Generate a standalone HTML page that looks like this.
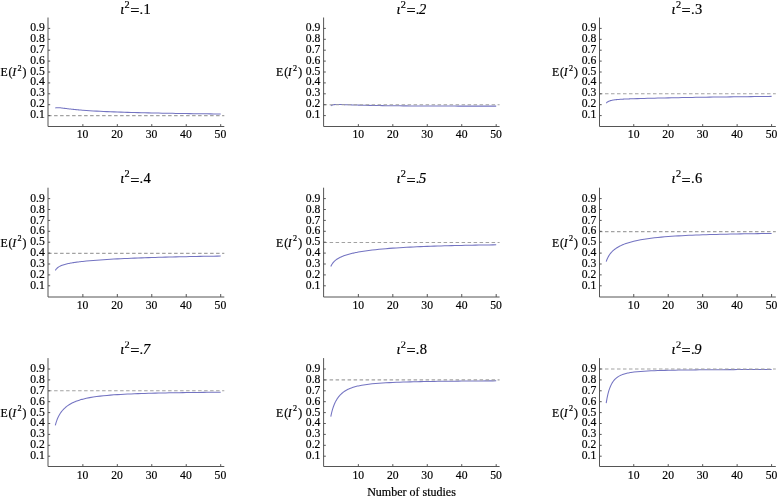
<!DOCTYPE html>
<html><head><meta charset="utf-8"><title>E(I2) by number of studies</title>
<style>
html,body{margin:0;padding:0;background:#fff;}
body{width:778px;height:497px;overflow:hidden;}
svg{display:block;}
text{font-family:"Liberation Serif","DejaVu Serif",serif;fill:#000;stroke:#000;stroke-width:0.2px;}
.t{font-size:13.4px;}
.ti{font-size:14.5px;}
.yl{font-size:11.8px;}
.nl{font-size:12px;}
.ax{stroke:#555;stroke-width:1;fill:none;}
.cv{stroke:#7474c2;stroke-width:1.05;fill:none;stroke-linejoin:round;}
.ds{stroke:#a2a2a2;stroke-width:1.1;fill:none;stroke-dasharray:3.5 2.5;}
</style></head><body>
<svg width="778" height="497" viewBox="0 0 778 497">
<defs><clipPath id="c3" clipPathUnits="userSpaceOnUse"><rect x="0" y="341.4" width="778" height="30"/></clipPath></defs>
<rect width="778" height="497" fill="#fff"/>

<g>
<polyline class="cv" points="55.29,108.12 56.15,107.83 57.02,107.71 57.88,107.68 58.74,107.71 59.60,107.77 60.46,107.85 61.32,107.95 62.18,108.05 63.05,108.15 63.91,108.26 64.77,108.37 65.63,108.48 66.49,108.59 67.35,108.70 68.21,108.80 69.08,108.90 69.94,109.00 70.80,109.10 71.66,109.19 72.52,109.29 73.38,109.38 74.25,109.46 75.11,109.55 75.97,109.63 76.83,109.71 77.69,109.79 78.55,109.87 79.41,109.94 80.28,110.01 81.14,110.08 82.00,110.15 82.86,110.22 86.31,110.47 89.75,110.71 93.20,110.92 96.64,111.11 100.09,111.29 103.54,111.46 106.98,111.61 110.43,111.76 113.87,111.89 117.32,112.02 120.77,112.14 124.21,112.25 127.66,112.36 131.10,112.46 134.55,112.55 138.00,112.64 141.44,112.73 144.89,112.81 148.33,112.89 151.78,112.96 155.23,113.03 158.67,113.10 162.12,113.17 165.56,113.23 169.01,113.29 172.46,113.35 175.90,113.41 179.35,113.46 182.79,113.51 186.24,113.56 189.69,113.61 193.13,113.66 196.58,113.70 200.02,113.74 203.47,113.79 206.92,113.83 210.36,113.87 213.81,113.90 217.25,113.94 220.70,113.98"/>
<line class="ds" x1="48.10" y1="115.60" x2="224.30" y2="115.60"/>
<path class="ax" d="M48.00 17.50 V126.50 H224.30"/>
<path class="ax" d="M48.00 115.60h2.2M48.00 104.70h2.2M48.00 93.80h2.2M48.00 82.90h2.2M48.00 72.00h2.2M48.00 61.10h2.2M48.00 50.20h2.2M48.00 39.30h2.2M48.00 28.40h2.2M82.86 126.50v-2.4M117.32 126.50v-2.4M151.78 126.50v-2.4M186.24 126.50v-2.4M220.70 126.50v-2.4"/>
<text class="t" text-anchor="end" transform="translate(44.80 118.10) scale(0.87 1)">0.1</text>
<text class="t" text-anchor="end" transform="translate(44.80 107.20) scale(0.87 1)">0.2</text>
<text class="t" text-anchor="end" transform="translate(44.80 96.30) scale(0.87 1)">0.3</text>
<text class="t" text-anchor="end" transform="translate(44.80 85.40) scale(0.87 1)">0.4</text>
<text class="t" text-anchor="end" transform="translate(44.80 74.50) scale(0.87 1)">0.5</text>
<text class="t" text-anchor="end" transform="translate(44.80 63.60) scale(0.87 1)">0.6</text>
<text class="t" text-anchor="end" transform="translate(44.80 52.70) scale(0.87 1)">0.7</text>
<text class="t" text-anchor="end" transform="translate(44.80 41.80) scale(0.87 1)">0.8</text>
<text class="t" text-anchor="end" transform="translate(44.80 30.90) scale(0.87 1)">0.9</text>
<text class="t" text-anchor="middle" transform="translate(82.56 138.30) scale(0.87 1)">10</text>
<text class="t" text-anchor="middle" transform="translate(117.02 138.30) scale(0.87 1)">20</text>
<text class="t" text-anchor="middle" transform="translate(151.48 138.30) scale(0.87 1)">30</text>
<text class="t" text-anchor="middle" transform="translate(185.94 138.30) scale(0.87 1)">40</text>
<text class="t" text-anchor="middle" transform="translate(220.40 138.30) scale(0.87 1)">50</text>
<text class="ti" y="13.90"><tspan font-style="italic" x="120.30">ι</tspan><tspan x="130.30" dy="2.2" font-size="16.3">=</tspan><tspan x="139.60" dy="-2.2">.</tspan><tspan x="143.60">1</tspan></text>
<text class="ti" style="font-size:10.3px" x="124.60" y="7.50">2</text>
<text class="yl" x="0.40" y="76.40">E<tspan dx="1">(</tspan><tspan font-style="italic" dx="-0.4">I</tspan><tspan dy="-5.5" dx="1.4" font-size="8.2">2</tspan><tspan dy="5.5" dx="1">)</tspan></text>
</g>
<g>
<polyline class="cv" points="330.79,105.83 331.65,105.29 332.51,104.96 333.38,104.74 334.24,104.61 335.10,104.52 335.96,104.47 336.82,104.44 337.68,104.44 338.55,104.44 339.41,104.45 340.27,104.47 341.13,104.49 341.99,104.52 342.85,104.55 343.71,104.58 344.58,104.61 345.44,104.65 346.30,104.68 347.16,104.71 348.02,104.75 348.88,104.78 349.75,104.81 350.61,104.84 351.47,104.88 352.33,104.91 353.19,104.94 354.05,104.97 354.91,105.00 355.78,105.02 356.64,105.05 357.50,105.08 358.36,105.11 361.81,105.21 365.25,105.29 368.70,105.38 372.14,105.45 375.59,105.52 379.04,105.57 382.48,105.63 385.93,105.68 389.37,105.72 392.82,105.76 396.27,105.80 399.71,105.83 403.16,105.86 406.60,105.89 410.05,105.92 413.50,105.94 416.94,105.96 420.39,105.98 423.83,105.99 427.28,106.01 430.73,106.02 434.17,106.04 437.62,106.05 441.06,106.06 444.51,106.07 447.96,106.08 451.40,106.08 454.85,106.09 458.29,106.10 461.74,106.10 465.19,106.10 468.63,106.11 472.08,106.11 475.52,106.11 478.97,106.12 482.42,106.12 485.86,106.12 489.31,106.12 492.75,106.12 496.20,106.12"/>
<line class="ds" x1="323.60" y1="104.70" x2="499.60" y2="104.70"/>
<path class="ax" d="M323.60 17.50 V126.50 H499.60"/>
<path class="ax" d="M323.60 115.60h2.2M323.60 104.70h2.2M323.60 93.80h2.2M323.60 82.90h2.2M323.60 72.00h2.2M323.60 61.10h2.2M323.60 50.20h2.2M323.60 39.30h2.2M323.60 28.40h2.2M358.36 126.50v-2.4M392.82 126.50v-2.4M427.28 126.50v-2.4M461.74 126.50v-2.4M496.20 126.50v-2.4"/>
<text class="t" text-anchor="end" transform="translate(320.40 118.10) scale(0.87 1)">0.1</text>
<text class="t" text-anchor="end" transform="translate(320.40 107.20) scale(0.87 1)">0.2</text>
<text class="t" text-anchor="end" transform="translate(320.40 96.30) scale(0.87 1)">0.3</text>
<text class="t" text-anchor="end" transform="translate(320.40 85.40) scale(0.87 1)">0.4</text>
<text class="t" text-anchor="end" transform="translate(320.40 74.50) scale(0.87 1)">0.5</text>
<text class="t" text-anchor="end" transform="translate(320.40 63.60) scale(0.87 1)">0.6</text>
<text class="t" text-anchor="end" transform="translate(320.40 52.70) scale(0.87 1)">0.7</text>
<text class="t" text-anchor="end" transform="translate(320.40 41.80) scale(0.87 1)">0.8</text>
<text class="t" text-anchor="end" transform="translate(320.40 30.90) scale(0.87 1)">0.9</text>
<text class="t" text-anchor="middle" transform="translate(358.26 138.30) scale(0.87 1)">10</text>
<text class="t" text-anchor="middle" transform="translate(392.72 138.30) scale(0.87 1)">20</text>
<text class="t" text-anchor="middle" transform="translate(427.18 138.30) scale(0.87 1)">30</text>
<text class="t" text-anchor="middle" transform="translate(461.64 138.30) scale(0.87 1)">40</text>
<text class="t" text-anchor="middle" transform="translate(496.10 138.30) scale(0.87 1)">50</text>
<text class="ti" y="13.90"><tspan font-style="italic" x="396.40">ι</tspan><tspan x="406.40" dy="2.2" font-size="16.3">=</tspan><tspan x="415.70" dy="-2.2">.</tspan><tspan x="419.00" font-style="italic">2</tspan></text>
<text class="ti" style="font-size:10.3px" x="400.70" y="7.50">2</text>
<text class="yl" x="276.00" y="76.40">E<tspan dx="1">(</tspan><tspan font-style="italic" dx="-0.4">I</tspan><tspan dy="-5.5" dx="1.4" font-size="8.2">2</tspan><tspan dy="5.5" dx="1">)</tspan></text>
</g>
<g>
<polyline class="cv" points="606.19,103.14 607.05,102.29 607.91,101.68 608.78,101.24 609.64,100.89 610.50,100.62 611.36,100.40 612.22,100.21 613.08,100.06 613.95,99.93 614.81,99.81 615.67,99.71 616.53,99.62 617.39,99.54 618.25,99.47 619.11,99.40 619.98,99.34 620.84,99.28 621.70,99.23 622.56,99.18 623.42,99.14 624.28,99.09 625.14,99.05 626.01,99.01 626.87,98.97 627.73,98.94 628.59,98.90 629.45,98.87 630.31,98.84 631.18,98.81 632.04,98.78 632.90,98.75 633.76,98.72 637.21,98.61 640.65,98.51 644.10,98.41 647.54,98.32 650.99,98.24 654.44,98.15 657.88,98.08 661.33,98.00 664.77,97.93 668.22,97.86 671.67,97.79 675.11,97.72 678.56,97.65 682.00,97.59 685.45,97.53 688.90,97.47 692.34,97.41 695.79,97.35 699.23,97.30 702.68,97.25 706.13,97.19 709.57,97.14 713.02,97.09 716.46,97.04 719.91,96.99 723.36,96.95 726.80,96.90 730.25,96.86 733.69,96.81 737.14,96.77 740.59,96.73 744.03,96.69 747.48,96.65 750.92,96.61 754.37,96.57 757.82,96.53 761.26,96.50 764.71,96.46 768.15,96.43 771.60,96.39"/>
<line class="ds" x1="599.00" y1="93.80" x2="775.80" y2="93.80"/>
<path class="ax" d="M599.50 17.50 V126.50 H775.80"/>
<path class="ax" d="M599.50 115.60h2.2M599.50 104.70h2.2M599.50 93.80h2.2M599.50 82.90h2.2M599.50 72.00h2.2M599.50 61.10h2.2M599.50 50.20h2.2M599.50 39.30h2.2M599.50 28.40h2.2M633.76 126.50v-2.4M668.22 126.50v-2.4M702.68 126.50v-2.4M737.14 126.50v-2.4M771.60 126.50v-2.4"/>
<text class="t" text-anchor="end" transform="translate(596.30 118.10) scale(0.87 1)">0.1</text>
<text class="t" text-anchor="end" transform="translate(596.30 107.20) scale(0.87 1)">0.2</text>
<text class="t" text-anchor="end" transform="translate(596.30 96.30) scale(0.87 1)">0.3</text>
<text class="t" text-anchor="end" transform="translate(596.30 85.40) scale(0.87 1)">0.4</text>
<text class="t" text-anchor="end" transform="translate(596.30 74.50) scale(0.87 1)">0.5</text>
<text class="t" text-anchor="end" transform="translate(596.30 63.60) scale(0.87 1)">0.6</text>
<text class="t" text-anchor="end" transform="translate(596.30 52.70) scale(0.87 1)">0.7</text>
<text class="t" text-anchor="end" transform="translate(596.30 41.80) scale(0.87 1)">0.8</text>
<text class="t" text-anchor="end" transform="translate(596.30 30.90) scale(0.87 1)">0.9</text>
<text class="t" text-anchor="middle" transform="translate(633.66 138.30) scale(0.87 1)">10</text>
<text class="t" text-anchor="middle" transform="translate(668.12 138.30) scale(0.87 1)">20</text>
<text class="t" text-anchor="middle" transform="translate(702.58 138.30) scale(0.87 1)">30</text>
<text class="t" text-anchor="middle" transform="translate(737.04 138.30) scale(0.87 1)">40</text>
<text class="t" text-anchor="middle" transform="translate(771.50 138.30) scale(0.87 1)">50</text>
<text class="ti" y="13.90"><tspan font-style="italic" x="671.60">ι</tspan><tspan x="681.60" dy="2.2" font-size="16.3">=</tspan><tspan x="690.90" dy="-2.2">.</tspan><tspan x="694.90">3</tspan></text>
<text class="ti" style="font-size:10.3px" x="675.90" y="7.50">2</text>
<text class="yl" x="551.90" y="76.40">E<tspan dx="1">(</tspan><tspan font-style="italic" dx="-0.4">I</tspan><tspan dy="-5.5" dx="1.4" font-size="8.2">2</tspan><tspan dy="5.5" dx="1">)</tspan></text>
</g>
<g>
<polyline class="cv" points="55.29,270.42 56.15,269.18 57.02,268.24 57.88,267.50 58.74,266.90 59.60,266.39 60.46,265.95 61.32,265.57 62.18,265.23 63.05,264.93 63.91,264.65 64.77,264.40 65.63,264.17 66.49,263.95 67.35,263.75 68.21,263.57 69.08,263.39 69.94,263.22 70.80,263.06 71.66,262.91 72.52,262.77 73.38,262.63 74.25,262.50 75.11,262.37 75.97,262.25 76.83,262.13 77.69,262.01 78.55,261.90 79.41,261.80 80.28,261.69 81.14,261.59 82.00,261.50 82.86,261.40 86.31,261.05 89.75,260.73 93.20,260.43 96.64,260.16 100.09,259.91 103.54,259.68 106.98,259.46 110.43,259.26 113.87,259.06 117.32,258.88 120.77,258.71 124.21,258.55 127.66,258.40 131.10,258.25 134.55,258.12 138.00,257.99 141.44,257.86 144.89,257.74 148.33,257.63 151.78,257.52 155.23,257.42 158.67,257.32 162.12,257.22 165.56,257.13 169.01,257.04 172.46,256.96 175.90,256.88 179.35,256.80 182.79,256.73 186.24,256.65 189.69,256.59 193.13,256.52 196.58,256.46 200.02,256.39 203.47,256.33 206.92,256.28 210.36,256.22 213.81,256.17 217.25,256.11 220.70,256.06"/>
<line class="ds" x1="48.10" y1="253.40" x2="224.30" y2="253.40"/>
<path class="ax" d="M48.00 187.70 V297.00 H224.30"/>
<path class="ax" d="M48.00 285.80h2.2M48.00 274.90h2.2M48.00 264.00h2.2M48.00 253.10h2.2M48.00 242.20h2.2M48.00 231.30h2.2M48.00 220.40h2.2M48.00 209.50h2.2M48.00 198.60h2.2M82.86 297.00v-3.0M117.32 297.00v-3.0M151.78 297.00v-3.0M186.24 297.00v-3.0M220.70 297.00v-3.0"/>
<text class="t" text-anchor="end" transform="translate(44.80 288.90) scale(0.87 1)">0.1</text>
<text class="t" text-anchor="end" transform="translate(44.80 278.00) scale(0.87 1)">0.2</text>
<text class="t" text-anchor="end" transform="translate(44.80 267.10) scale(0.87 1)">0.3</text>
<text class="t" text-anchor="end" transform="translate(44.80 256.20) scale(0.87 1)">0.4</text>
<text class="t" text-anchor="end" transform="translate(44.80 245.30) scale(0.87 1)">0.5</text>
<text class="t" text-anchor="end" transform="translate(44.80 234.40) scale(0.87 1)">0.6</text>
<text class="t" text-anchor="end" transform="translate(44.80 223.50) scale(0.87 1)">0.7</text>
<text class="t" text-anchor="end" transform="translate(44.80 212.60) scale(0.87 1)">0.8</text>
<text class="t" text-anchor="end" transform="translate(44.80 201.70) scale(0.87 1)">0.9</text>
<text class="t" text-anchor="middle" transform="translate(82.56 308.70) scale(0.87 1)">10</text>
<text class="t" text-anchor="middle" transform="translate(117.02 308.70) scale(0.87 1)">20</text>
<text class="t" text-anchor="middle" transform="translate(151.48 308.70) scale(0.87 1)">30</text>
<text class="t" text-anchor="middle" transform="translate(185.94 308.70) scale(0.87 1)">40</text>
<text class="t" text-anchor="middle" transform="translate(220.40 308.70) scale(0.87 1)">50</text>
<text class="ti" y="183.40"><tspan font-style="italic" x="120.30">ι</tspan><tspan x="130.30" dy="2.2" font-size="16.3">=</tspan><tspan x="139.60" dy="-2.2">.</tspan><tspan x="143.60">4</tspan></text>
<text class="ti" style="font-size:10.3px" x="124.60" y="177.00">2</text>
<text class="yl" x="0.40" y="246.50">E<tspan dx="1">(</tspan><tspan font-style="italic" dx="-0.4">I</tspan><tspan dy="-5.5" dx="1.4" font-size="8.2">2</tspan><tspan dy="5.5" dx="1">)</tspan></text>
</g>
<g>
<polyline class="cv" points="330.79,266.50 331.65,264.77 332.51,263.42 333.38,262.32 334.24,261.40 335.10,260.60 335.96,259.90 336.82,259.27 337.68,258.71 338.55,258.20 339.41,257.73 340.27,257.30 341.13,256.90 341.99,256.53 342.85,256.18 343.71,255.85 344.58,255.53 345.44,255.24 346.30,254.96 347.16,254.69 348.02,254.44 348.88,254.19 349.75,253.96 350.61,253.74 351.47,253.52 352.33,253.32 353.19,253.12 354.05,252.93 354.91,252.75 355.78,252.57 356.64,252.40 357.50,252.23 358.36,252.07 361.81,251.47 365.25,250.94 368.70,250.47 372.14,250.04 375.59,249.65 379.04,249.29 382.48,248.97 385.93,248.67 389.37,248.39 392.82,248.14 396.27,247.90 399.71,247.68 403.16,247.48 406.60,247.29 410.05,247.11 413.50,246.94 416.94,246.79 420.39,246.64 423.83,246.50 427.28,246.37 430.73,246.25 434.17,246.14 437.62,246.03 441.06,245.92 444.51,245.83 447.96,245.73 451.40,245.64 454.85,245.56 458.29,245.48 461.74,245.41 465.19,245.33 468.63,245.26 472.08,245.20 475.52,245.13 478.97,245.07 482.42,245.02 485.86,244.96 489.31,244.91 492.75,244.86 496.20,244.81"/>
<line class="ds" x1="323.60" y1="242.50" x2="499.60" y2="242.50"/>
<path class="ax" d="M323.60 187.70 V297.00 H499.60"/>
<path class="ax" d="M323.60 285.80h2.2M323.60 274.90h2.2M323.60 264.00h2.2M323.60 253.10h2.2M323.60 242.20h2.2M323.60 231.30h2.2M323.60 220.40h2.2M323.60 209.50h2.2M323.60 198.60h2.2M358.36 297.00v-3.0M392.82 297.00v-3.0M427.28 297.00v-3.0M461.74 297.00v-3.0M496.20 297.00v-3.0"/>
<text class="t" text-anchor="end" transform="translate(320.40 288.90) scale(0.87 1)">0.1</text>
<text class="t" text-anchor="end" transform="translate(320.40 278.00) scale(0.87 1)">0.2</text>
<text class="t" text-anchor="end" transform="translate(320.40 267.10) scale(0.87 1)">0.3</text>
<text class="t" text-anchor="end" transform="translate(320.40 256.20) scale(0.87 1)">0.4</text>
<text class="t" text-anchor="end" transform="translate(320.40 245.30) scale(0.87 1)">0.5</text>
<text class="t" text-anchor="end" transform="translate(320.40 234.40) scale(0.87 1)">0.6</text>
<text class="t" text-anchor="end" transform="translate(320.40 223.50) scale(0.87 1)">0.7</text>
<text class="t" text-anchor="end" transform="translate(320.40 212.60) scale(0.87 1)">0.8</text>
<text class="t" text-anchor="end" transform="translate(320.40 201.70) scale(0.87 1)">0.9</text>
<text class="t" text-anchor="middle" transform="translate(358.26 308.70) scale(0.87 1)">10</text>
<text class="t" text-anchor="middle" transform="translate(392.72 308.70) scale(0.87 1)">20</text>
<text class="t" text-anchor="middle" transform="translate(427.18 308.70) scale(0.87 1)">30</text>
<text class="t" text-anchor="middle" transform="translate(461.64 308.70) scale(0.87 1)">40</text>
<text class="t" text-anchor="middle" transform="translate(496.10 308.70) scale(0.87 1)">50</text>
<text class="ti" y="183.40"><tspan font-style="italic" x="396.40">ι</tspan><tspan x="406.40" dy="2.2" font-size="16.3">=</tspan><tspan x="415.70" dy="-2.2">.</tspan><tspan x="419.00" font-style="italic">5</tspan></text>
<text class="ti" style="font-size:10.3px" x="400.70" y="177.00">2</text>
<text class="yl" x="276.00" y="246.50">E<tspan dx="1">(</tspan><tspan font-style="italic" dx="-0.4">I</tspan><tspan dy="-5.5" dx="1.4" font-size="8.2">2</tspan><tspan dy="5.5" dx="1">)</tspan></text>
</g>
<g>
<polyline class="cv" points="606.19,261.60 607.05,259.28 607.91,257.42 608.78,255.88 609.64,254.56 610.50,253.41 611.36,252.40 612.22,251.49 613.08,250.67 613.95,249.93 614.81,249.24 615.67,248.61 616.53,248.02 617.39,247.48 618.25,246.97 619.11,246.49 619.98,246.04 620.84,245.61 621.70,245.21 622.56,244.83 623.42,244.47 624.28,244.13 625.14,243.80 626.01,243.49 626.87,243.19 627.73,242.91 628.59,242.64 629.45,242.38 630.31,242.13 631.18,241.89 632.04,241.66 632.90,241.44 633.76,241.23 637.21,240.45 640.65,239.78 644.10,239.19 647.54,238.67 650.99,238.22 654.44,237.81 657.88,237.44 661.33,237.11 664.77,236.81 668.22,236.54 671.67,236.30 675.11,236.07 678.56,235.87 682.00,235.68 685.45,235.50 688.90,235.34 692.34,235.19 695.79,235.06 699.23,234.93 702.68,234.81 706.13,234.70 709.57,234.59 713.02,234.50 716.46,234.40 719.91,234.32 723.36,234.24 726.80,234.16 730.25,234.09 733.69,234.02 737.14,233.95 740.59,233.89 744.03,233.83 747.48,233.78 750.92,233.73 754.37,233.68 757.82,233.63 761.26,233.58 764.71,233.54 768.15,233.50 771.60,233.45"/>
<line class="ds" x1="599.00" y1="231.60" x2="775.80" y2="231.60"/>
<path class="ax" d="M599.50 187.70 V297.00 H775.80"/>
<path class="ax" d="M599.50 285.80h2.2M599.50 274.90h2.2M599.50 264.00h2.2M599.50 253.10h2.2M599.50 242.20h2.2M599.50 231.30h2.2M599.50 220.40h2.2M599.50 209.50h2.2M599.50 198.60h2.2M633.76 297.00v-3.0M668.22 297.00v-3.0M702.68 297.00v-3.0M737.14 297.00v-3.0M771.60 297.00v-3.0"/>
<text class="t" text-anchor="end" transform="translate(596.30 288.90) scale(0.87 1)">0.1</text>
<text class="t" text-anchor="end" transform="translate(596.30 278.00) scale(0.87 1)">0.2</text>
<text class="t" text-anchor="end" transform="translate(596.30 267.10) scale(0.87 1)">0.3</text>
<text class="t" text-anchor="end" transform="translate(596.30 256.20) scale(0.87 1)">0.4</text>
<text class="t" text-anchor="end" transform="translate(596.30 245.30) scale(0.87 1)">0.5</text>
<text class="t" text-anchor="end" transform="translate(596.30 234.40) scale(0.87 1)">0.6</text>
<text class="t" text-anchor="end" transform="translate(596.30 223.50) scale(0.87 1)">0.7</text>
<text class="t" text-anchor="end" transform="translate(596.30 212.60) scale(0.87 1)">0.8</text>
<text class="t" text-anchor="end" transform="translate(596.30 201.70) scale(0.87 1)">0.9</text>
<text class="t" text-anchor="middle" transform="translate(633.66 308.70) scale(0.87 1)">10</text>
<text class="t" text-anchor="middle" transform="translate(668.12 308.70) scale(0.87 1)">20</text>
<text class="t" text-anchor="middle" transform="translate(702.58 308.70) scale(0.87 1)">30</text>
<text class="t" text-anchor="middle" transform="translate(737.04 308.70) scale(0.87 1)">40</text>
<text class="t" text-anchor="middle" transform="translate(771.50 308.70) scale(0.87 1)">50</text>
<text class="ti" y="183.40"><tspan font-style="italic" x="671.60">ι</tspan><tspan x="681.60" dy="2.2" font-size="16.3">=</tspan><tspan x="690.90" dy="-2.2">.</tspan><tspan x="694.90">6</tspan></text>
<text class="ti" style="font-size:10.3px" x="675.90" y="177.00">2</text>
<text class="yl" x="551.90" y="246.50">E<tspan dx="1">(</tspan><tspan font-style="italic" dx="-0.4">I</tspan><tspan dy="-5.5" dx="1.4" font-size="8.2">2</tspan><tspan dy="5.5" dx="1">)</tspan></text>
</g>
<g>
<polyline class="cv" points="55.29,425.36 56.15,422.30 57.02,419.81 57.88,417.74 58.74,415.97 59.60,414.42 60.46,413.06 61.32,411.85 62.18,410.76 63.05,409.77 63.91,408.86 64.77,408.04 65.63,407.28 66.49,406.58 67.35,405.93 68.21,405.32 69.08,404.76 69.94,404.23 70.80,403.74 71.66,403.28 72.52,402.84 73.38,402.43 74.25,402.05 75.11,401.68 75.97,401.34 76.83,401.01 77.69,400.70 78.55,400.41 79.41,400.13 80.28,399.86 81.14,399.61 82.00,399.37 82.86,399.14 86.31,398.32 89.75,397.63 93.20,397.04 96.64,396.54 100.09,396.11 103.54,395.73 106.98,395.40 110.43,395.11 113.87,394.85 117.32,394.62 120.77,394.42 124.21,394.23 127.66,394.06 131.10,393.91 134.55,393.77 138.00,393.64 141.44,393.52 144.89,393.41 148.33,393.31 151.78,393.22 155.23,393.13 158.67,393.05 162.12,392.98 165.56,392.91 169.01,392.84 172.46,392.78 175.90,392.72 179.35,392.67 182.79,392.62 186.24,392.57 189.69,392.52 193.13,392.48 196.58,392.43 200.02,392.40 203.47,392.36 206.92,392.32 210.36,392.29 213.81,392.25 217.25,392.22 220.70,392.19"/>
<line class="ds" x1="48.10" y1="390.80" x2="224.30" y2="390.80"/>
<path class="ax" d="M48.00 358.10 V466.50 H224.30"/>
<path class="ax" d="M48.00 456.20h2.2M48.00 445.30h2.2M48.00 434.40h2.2M48.00 423.50h2.2M48.00 412.60h2.2M48.00 401.70h2.2M48.00 390.80h2.2M48.00 379.90h2.2M48.00 369.00h2.2M82.86 466.50v-2.4M117.32 466.50v-2.4M151.78 466.50v-2.4M186.24 466.50v-2.4M220.70 466.50v-2.4"/>
<text class="t" text-anchor="end" transform="translate(44.80 459.10) scale(0.87 1)">0.1</text>
<text class="t" text-anchor="end" transform="translate(44.80 448.20) scale(0.87 1)">0.2</text>
<text class="t" text-anchor="end" transform="translate(44.80 437.30) scale(0.87 1)">0.3</text>
<text class="t" text-anchor="end" transform="translate(44.80 426.40) scale(0.87 1)">0.4</text>
<text class="t" text-anchor="end" transform="translate(44.80 415.50) scale(0.87 1)">0.5</text>
<text class="t" text-anchor="end" transform="translate(44.80 404.60) scale(0.87 1)">0.6</text>
<text class="t" text-anchor="end" transform="translate(44.80 393.70) scale(0.87 1)">0.7</text>
<text class="t" text-anchor="end" transform="translate(44.80 382.80) scale(0.87 1)">0.8</text>
<text class="t" text-anchor="end" transform="translate(44.80 371.90) scale(0.87 1)">0.9</text>
<text class="t" text-anchor="middle" transform="translate(82.56 479.10) scale(0.87 1)">10</text>
<text class="t" text-anchor="middle" transform="translate(117.02 479.10) scale(0.87 1)">20</text>
<text class="t" text-anchor="middle" transform="translate(151.48 479.10) scale(0.87 1)">30</text>
<text class="t" text-anchor="middle" transform="translate(185.94 479.10) scale(0.87 1)">40</text>
<text class="t" text-anchor="middle" transform="translate(220.40 479.10) scale(0.87 1)">50</text>
<text class="ti" y="353.70"><tspan font-style="italic" x="120.30">ι</tspan><tspan x="130.30" dy="2.2" font-size="16.3">=</tspan><tspan x="139.60" dy="-2.2">.</tspan><tspan x="142.90" font-style="italic">7</tspan></text>
<text class="ti" style="font-size:10.3px" x="124.60" y="347.60" clip-path="url(#c3)">2</text>
<text class="yl" x="0.40" y="416.70">E<tspan dx="1">(</tspan><tspan font-style="italic" dx="-0.4">I</tspan><tspan dy="-5.5" dx="1.4" font-size="8.2">2</tspan><tspan dy="5.5" dx="1">)</tspan></text>
</g>
<g>
<polyline class="cv" points="330.79,416.66 331.65,412.66 332.51,409.44 333.38,406.77 334.24,404.51 335.10,402.57 335.96,400.88 336.82,399.39 337.68,398.07 338.55,396.90 339.41,395.84 340.27,394.89 341.13,394.04 341.99,393.25 342.85,392.54 343.71,391.89 344.58,391.29 345.44,390.74 346.30,390.24 347.16,389.77 348.02,389.33 348.88,388.93 349.75,388.56 350.61,388.21 351.47,387.88 352.33,387.58 353.19,387.29 354.05,387.03 354.91,386.78 355.78,386.54 356.64,386.32 357.50,386.11 358.36,385.92 361.81,385.23 365.25,384.68 368.70,384.22 372.14,383.84 375.59,383.52 379.04,383.25 382.48,383.01 385.93,382.80 389.37,382.62 392.82,382.46 396.27,382.32 399.71,382.19 403.16,382.08 406.60,381.98 410.05,381.88 413.50,381.80 416.94,381.72 420.39,381.64 423.83,381.58 427.28,381.51 430.73,381.46 434.17,381.40 437.62,381.35 441.06,381.31 444.51,381.26 447.96,381.22 451.40,381.18 454.85,381.15 458.29,381.11 461.74,381.08 465.19,381.05 468.63,381.02 472.08,380.99 475.52,380.96 478.97,380.94 482.42,380.91 485.86,380.89 489.31,380.87 492.75,380.85 496.20,380.83"/>
<line class="ds" x1="323.60" y1="379.90" x2="499.60" y2="379.90"/>
<path class="ax" d="M323.60 358.10 V466.50 H499.60"/>
<path class="ax" d="M323.60 456.20h2.2M323.60 445.30h2.2M323.60 434.40h2.2M323.60 423.50h2.2M323.60 412.60h2.2M323.60 401.70h2.2M323.60 390.80h2.2M323.60 379.90h2.2M323.60 369.00h2.2M358.36 466.50v-2.4M392.82 466.50v-2.4M427.28 466.50v-2.4M461.74 466.50v-2.4M496.20 466.50v-2.4"/>
<text class="t" text-anchor="end" transform="translate(320.40 459.10) scale(0.87 1)">0.1</text>
<text class="t" text-anchor="end" transform="translate(320.40 448.20) scale(0.87 1)">0.2</text>
<text class="t" text-anchor="end" transform="translate(320.40 437.30) scale(0.87 1)">0.3</text>
<text class="t" text-anchor="end" transform="translate(320.40 426.40) scale(0.87 1)">0.4</text>
<text class="t" text-anchor="end" transform="translate(320.40 415.50) scale(0.87 1)">0.5</text>
<text class="t" text-anchor="end" transform="translate(320.40 404.60) scale(0.87 1)">0.6</text>
<text class="t" text-anchor="end" transform="translate(320.40 393.70) scale(0.87 1)">0.7</text>
<text class="t" text-anchor="end" transform="translate(320.40 382.80) scale(0.87 1)">0.8</text>
<text class="t" text-anchor="end" transform="translate(320.40 371.90) scale(0.87 1)">0.9</text>
<text class="t" text-anchor="middle" transform="translate(358.26 479.10) scale(0.87 1)">10</text>
<text class="t" text-anchor="middle" transform="translate(392.72 479.10) scale(0.87 1)">20</text>
<text class="t" text-anchor="middle" transform="translate(427.18 479.10) scale(0.87 1)">30</text>
<text class="t" text-anchor="middle" transform="translate(461.64 479.10) scale(0.87 1)">40</text>
<text class="t" text-anchor="middle" transform="translate(496.10 479.10) scale(0.87 1)">50</text>
<text class="ti" y="353.70"><tspan font-style="italic" x="396.40">ι</tspan><tspan x="406.40" dy="2.2" font-size="16.3">=</tspan><tspan x="415.70" dy="-2.2">.</tspan><tspan x="419.70">8</tspan></text>
<text class="ti" style="font-size:10.3px" x="400.70" y="347.60" clip-path="url(#c3)">2</text>
<text class="yl" x="276.00" y="416.70">E<tspan dx="1">(</tspan><tspan font-style="italic" dx="-0.4">I</tspan><tspan dy="-5.5" dx="1.4" font-size="8.2">2</tspan><tspan dy="5.5" dx="1">)</tspan></text>
</g>
<g>
<polyline class="cv" points="606.19,403.12 607.05,398.06 607.91,394.11 608.78,390.94 609.64,388.34 610.50,386.19 611.36,384.39 612.22,382.86 613.08,381.55 613.95,380.43 614.81,379.45 615.67,378.60 616.53,377.86 617.39,377.20 618.25,376.62 619.11,376.11 619.98,375.65 620.84,375.24 621.70,374.87 622.56,374.54 623.42,374.24 624.28,373.97 625.14,373.72 626.01,373.49 626.87,373.28 627.73,373.09 628.59,372.91 629.45,372.75 630.31,372.60 631.18,372.46 632.04,372.33 632.90,372.21 633.76,372.10 637.21,371.72 640.65,371.42 644.10,371.18 647.54,370.98 650.99,370.82 654.44,370.68 657.88,370.56 661.33,370.45 664.77,370.36 668.22,370.28 671.67,370.21 675.11,370.15 678.56,370.09 682.00,370.04 685.45,369.99 688.90,369.95 692.34,369.91 695.79,369.87 699.23,369.84 702.68,369.81 706.13,369.78 709.57,369.75 713.02,369.73 716.46,369.70 719.91,369.68 723.36,369.66 726.80,369.64 730.25,369.62 733.69,369.61 737.14,369.59 740.59,369.57 744.03,369.56 747.48,369.54 750.92,369.53 754.37,369.52 757.82,369.51 761.26,369.50 764.71,369.48 768.15,369.47 771.60,369.46"/>
<line class="ds" x1="599.00" y1="369.00" x2="775.80" y2="369.00"/>
<path class="ax" d="M599.50 358.10 V466.50 H775.80"/>
<path class="ax" d="M599.50 456.20h2.2M599.50 445.30h2.2M599.50 434.40h2.2M599.50 423.50h2.2M599.50 412.60h2.2M599.50 401.70h2.2M599.50 390.80h2.2M599.50 379.90h2.2M599.50 369.00h2.2M633.76 466.50v-2.4M668.22 466.50v-2.4M702.68 466.50v-2.4M737.14 466.50v-2.4M771.60 466.50v-2.4"/>
<text class="t" text-anchor="end" transform="translate(596.30 459.10) scale(0.87 1)">0.1</text>
<text class="t" text-anchor="end" transform="translate(596.30 448.20) scale(0.87 1)">0.2</text>
<text class="t" text-anchor="end" transform="translate(596.30 437.30) scale(0.87 1)">0.3</text>
<text class="t" text-anchor="end" transform="translate(596.30 426.40) scale(0.87 1)">0.4</text>
<text class="t" text-anchor="end" transform="translate(596.30 415.50) scale(0.87 1)">0.5</text>
<text class="t" text-anchor="end" transform="translate(596.30 404.60) scale(0.87 1)">0.6</text>
<text class="t" text-anchor="end" transform="translate(596.30 393.70) scale(0.87 1)">0.7</text>
<text class="t" text-anchor="end" transform="translate(596.30 382.80) scale(0.87 1)">0.8</text>
<text class="t" text-anchor="end" transform="translate(596.30 371.90) scale(0.87 1)">0.9</text>
<text class="t" text-anchor="middle" transform="translate(633.66 479.10) scale(0.87 1)">10</text>
<text class="t" text-anchor="middle" transform="translate(668.12 479.10) scale(0.87 1)">20</text>
<text class="t" text-anchor="middle" transform="translate(702.58 479.10) scale(0.87 1)">30</text>
<text class="t" text-anchor="middle" transform="translate(737.04 479.10) scale(0.87 1)">40</text>
<text class="t" text-anchor="middle" transform="translate(771.50 479.10) scale(0.87 1)">50</text>
<text class="ti" y="353.70"><tspan font-style="italic" x="671.60">ι</tspan><tspan x="681.60" dy="2.2" font-size="16.3">=</tspan><tspan x="690.90" dy="-2.2">.</tspan><tspan x="694.20" font-style="italic">9</tspan></text>
<text class="ti" style="font-size:10.3px" x="675.90" y="347.60" clip-path="url(#c3)">2</text>
<text class="yl" x="551.90" y="416.70">E<tspan dx="1">(</tspan><tspan font-style="italic" dx="-0.4">I</tspan><tspan dy="-5.5" dx="1.4" font-size="8.2">2</tspan><tspan dy="5.5" dx="1">)</tspan></text>
</g>
<text class="nl" text-anchor="middle" x="411.5" y="495.8">Number of studies</text>
</svg></body></html>
